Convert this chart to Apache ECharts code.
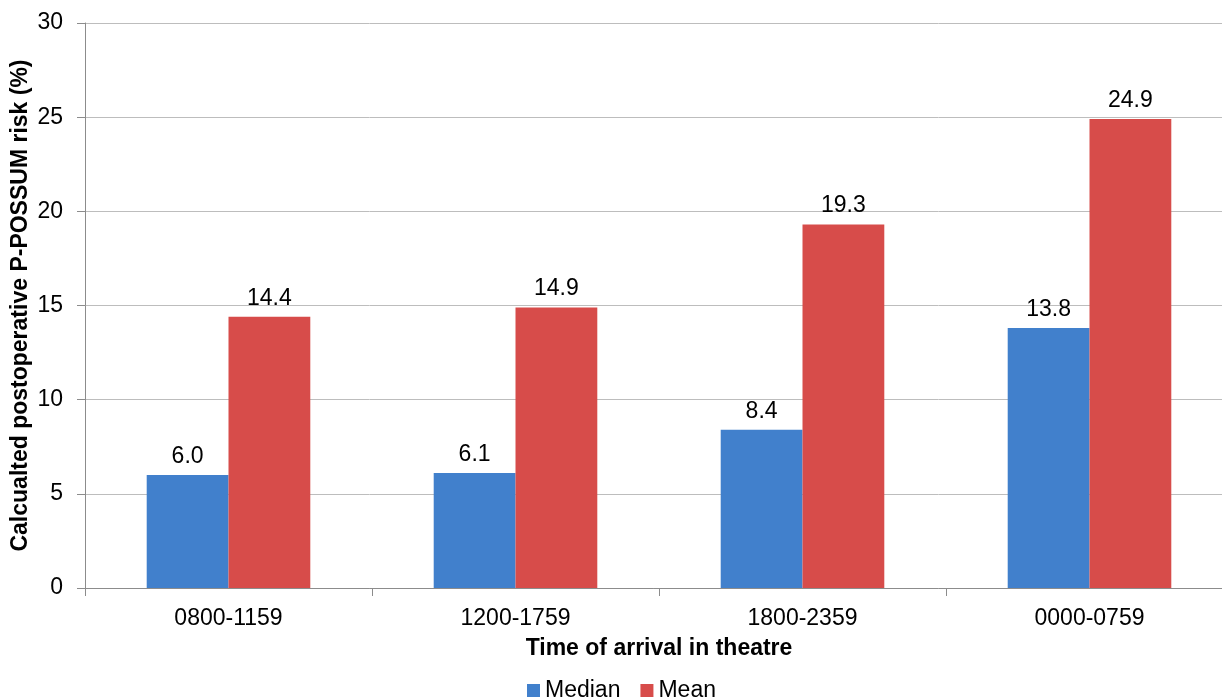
<!DOCTYPE html>
<html><head><meta charset="utf-8">
<script src="https://cdn.jsdelivr.net/npm/echarts@6/dist/echarts.min.js"></script>
<style>html,body{margin:0;padding:0;background:#fff}#c{width:1222px;height:699px}</style>
</head><body><div id="c"></div>
<script>
const categories = ['0800-1159', '1200-1759', '1800-2359', '0000-0759'];
const medianValues = [6.0, 6.1, 8.4, 13.8];
const meanValues = [14.4, 14.9, 19.3, 24.9];
const yTicks = [0, 5, 10, 15, 20, 25, 30];

const chart = echarts.init(document.getElementById('c'));
const font = '"Liberation Sans", Arial, Helvetica, sans-serif';
chart.setOption({
  animation: false,
  textStyle: { fontFamily: font },
  grid: { left: 85, width: 1148, top: 23, height: 565, containLabel: false, outerBoundsMode: 'none' },
  legend: {
    top: 674, left: 522, itemWidth: 13, itemHeight: 13, itemGap: 20,
    icon: 'rect',
    textStyle: { fontSize: 23, color: '#000', fontFamily: font },
    data: ['Median', 'Mean']
  },
  xAxis: {
    type: 'category', data: categories,
    name: 'Time of arrival in theatre', nameLocation: 'middle', nameGap: 49,
    nameMoveOverlap: false,
    nameTextStyle: { fontSize: 23, fontWeight: 'bold', color: '#000', fontFamily: font },
    axisLine: { lineStyle: { color: '#8c8c8c', width: 1 } },
    axisTick: { show: true, length: 8, lineStyle: { color: '#8c8c8c' } },
    axisLabel: { fontSize: 23, color: '#000', margin: 19, fontFamily: font }
  },
  yAxis: {
    type: 'value', min: 0, max: 30, interval: 5,
    name: 'Calcualted postoperative P-POSSUM risk (%)', nameLocation: 'middle', nameGap: 53,
    nameMoveOverlap: false,
    nameTextStyle: { fontSize: 23, fontWeight: 'bold', color: '#000', fontFamily: font },
    axisLine: { show: true, lineStyle: { color: '#8c8c8c', width: 1 } },
    axisTick: { show: true, length: 8, inside: false, lineStyle: { color: '#8c8c8c' } },
    axisLabel: { fontSize: 23, color: '#000', margin: 22, fontFamily: font,
      formatter: v => yTicks.includes(v) ? String(v) : '' },
    splitLine: { lineStyle: { color: '#bdbdbd', width: 1 } }
  },
  series: [
    { name: 'Median', type: 'bar', data: medianValues, barGap: '0%', barCategoryGap: '43%',
      itemStyle: { color: '#4180cc' },
      label: { show: true, position: 'top', distance: 7, fontSize: 23, color: '#000', fontFamily: font,
        formatter: p => p.value.toFixed(1) } },
    { name: 'Mean', type: 'bar', data: meanValues, barGap: '0%', barCategoryGap: '43%',
      itemStyle: { color: '#d74c4a' },
      label: { show: true, position: 'top', distance: 7, fontSize: 23, color: '#000', fontFamily: font,
        formatter: p => p.value.toFixed(1) } }
  ]
});
</script></body></html>
